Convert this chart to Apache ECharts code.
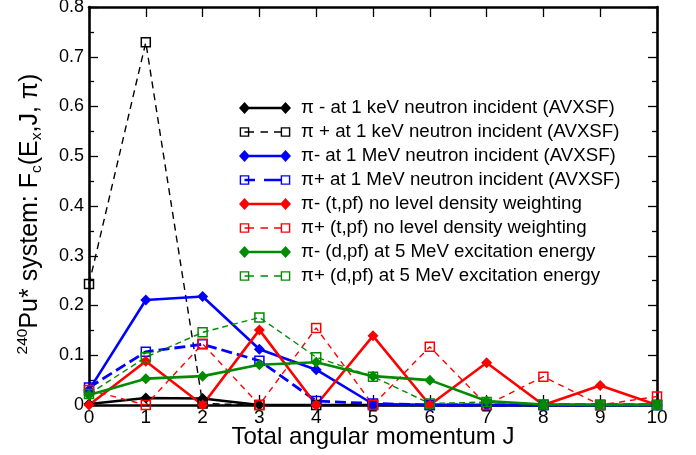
<!DOCTYPE html>
<html>
<head>
<meta charset="utf-8">
<script src="https://cdn.jsdelivr.net/npm/echarts@6/dist/echarts.min.js"></script>
<style>
  html, body { margin: 0; padding: 0; background: #fff; }
  #chart { width: 696px; height: 455px; }
</style>
</head>
<body>
<div id="chart"></div>
<script>
// Total angular momentum J
const J = [0, 1, 2, 3, 4, 5, 6, 7, 8, 9, 10];

// F_c(E_x, J, pi) for each parity / reaction
const keVMinus  = [0.002, 0.014, 0.013, 0.000, 0, 0, 0, 0, 0, 0, 0];
const keVPlus   = [0.243, 0.729, 0.003, 0.000, 0, 0, 0, 0, 0, 0, 0];
const MeVMinus  = [0.030, 0.211, 0.218, 0.112, 0.071, 0.002, 0, 0, 0, 0, 0];
const MeVPlus   = [0.035, 0.107, 0.122, 0.089, 0.008, 0.003, 0, 0, 0, 0, 0];
const tpfMinus  = [0.000, 0.088, 0.000, 0.151, 0.000, 0.139, 0.000, 0.085, 0.000, 0.039, 0.000];
const tpfPlus   = [0.030, 0.000, 0.123, 0.000, 0.155, 0.000, 0.117, 0.000, 0.057, 0.000, 0.017];
const dpfMinus  = [0.020, 0.053, 0.058, 0.081, 0.086, 0.058, 0.050, 0.008, 0.001, 0, 0];
const dpfPlus   = [0.022, 0.096, 0.146, 0.176, 0.096, 0.057, 0.003, 0.006, 0.001, 0, 0];

const names = [
  'π - at 1 keV neutron incident (AVXSF)',
  'π + at 1 keV neutron incident (AVXSF)',
  'π- at 1 MeV neutron incident (AVXSF)',
  'π+ at 1 MeV neutron incident (AVXSF)',
  'π- (t,pf) no level density weighting',
  'π+ (t,pf) no level density weighting',
  'π- (d,pf) at 5 MeV excitation energy',
  'π+ (d,pf) at 5 MeV excitation energy'
];

const BLACK = '#000000', BLUE = '#0000ff', RED = '#ff0000', GREEN = '#008b00';
const FONT = 'Liberation Sans';

// legend icon shapes: line with a marker at each end (drawn as filled sub-paths)
const ICON_W = 57, ICON_H = 12;
function rectPath(x0, y0, x1, y1, ccw) {
  return ccw
    ? `M${x0} ${y0} L${x0} ${y1} L${x1} ${y1} L${x1} ${y0} Z `
    : `M${x0} ${y0} L${x1} ${y0} L${x1} ${y1} L${x0} ${y1} Z `;
}
function diamondIcon() {
  let p = `M0 0 M${ICON_W} ${ICON_H} `;
  p += 'M0 6 L5.5 0 L11 6 L5.5 12 Z ';
  p += 'M41 6 L46.5 0 L52 6 L46.5 12 Z ';
  p += rectPath(5.5, 4.75, 46.5, 7.25);
  return 'path://' + p;
}
function squareIcon(dashes, thick) {
  let p = `M0 0 M${ICON_W} ${ICON_H} `;
  const sq = (cx) => rectPath(cx - 4.8, 1.2, cx + 4.8, 10.8) + rectPath(cx - 3.4, 2.6, cx + 3.4, 9.4, true);
  p += sq(5.5) + sq(46.5);
  dashes.forEach(([a, b]) => { p += rectPath(a, 6 - thick / 2, b, 6 + thick / 2); });
  return 'path://' + p;
}
const thinDash = [[5.5, 15], [21.5, 29], [35, 41.7]];
const thickDash = [[5.5, 16], [25, 41.7]];

function pairs(vals) { return J.map((j, i) => [j, vals[i]]); }

function minusSeries(name, vals, color) {
  return {
    name, type: 'line', data: pairs(vals), clip: false,
    symbol: 'diamond', symbolSize: 11,
    itemStyle: { color },
    lineStyle: { color, width: 2.6, type: 'solid' },
    emphasis: { disabled: true }
  };
}
function plusSeries(name, vals, color, dash, width) {
  return {
    name, type: 'line', data: pairs(vals), clip: false,
    symbol: 'rect', symbolSize: 9,
    itemStyle: { color: 'rgba(255,255,255,0)', borderColor: color, borderWidth: 1.5 },
    lineStyle: { color, width, type: dash },
    emphasis: { disabled: true }
  };
}

const series = [
  minusSeries(names[0], keVMinus, BLACK),
  plusSeries(names[1], keVPlus, BLACK, [7, 5], 1.4),
  minusSeries(names[2], MeVMinus, BLUE),
  plusSeries(names[3], MeVPlus, BLUE, [11, 5], 2.8),
  minusSeries(names[4], tpfMinus, RED),
  plusSeries(names[5], tpfPlus, RED, [6, 5], 1.4),
  minusSeries(names[6], dpfMinus, GREEN),
  plusSeries(names[7], dpfPlus, GREEN, [6, 4], 1.4)
];

const colors = [BLACK, BLACK, BLUE, BLUE, RED, RED, GREEN, GREEN];
const legendData = names.map((n, i) => ({
  name: n,
  icon: i % 2 === 0 ? diamondIcon() : squareIcon(i === 3 ? thickDash : thinDash, i === 3 ? 2.6 : 1.4),
  itemStyle: { color: colors[i], borderWidth: 0, opacity: 1 }
}));

const axisLine = { show: true, onZero: false, lineStyle: { color: '#000', width: 2.6 } };
const tickStyle = { color: '#000', width: 1.3 };

const option = {
  animation: false,
  textStyle: { fontFamily: FONT, color: '#000' },
  grid: { left: 89, right: 39, top: 7, bottom: 50, containLabel: false, outerBoundsMode: 'none' },
  legend: {
    orient: 'vertical', left: 234, top: 92,
    itemWidth: ICON_W, itemHeight: ICON_H, itemGap: 2,
    symbolKeepAspect: true, selectedMode: false,
    textStyle: { fontFamily: FONT, fontSize: 18.7, color: '#000', lineHeight: 22 },
    data: legendData
  },
  xAxis: [
    {
      type: 'value', min: 0, max: 10, interval: 1, position: 'bottom',
      name: 'Total angular momentum J', nameLocation: 'middle', nameGap: 20,
      nameMoveOverlap: false,
      nameTextStyle: { fontFamily: FONT, fontSize: 24, color: '#000' },
      axisLine, splitLine: { show: false },
      axisTick: { show: true, inside: true, length: 10, lineStyle: tickStyle },
      axisLabel: { fontFamily: FONT, fontSize: 19, color: '#000', margin: 3 }
    },
    {
      type: 'value', min: 0, max: 10, interval: 1, position: 'top',
      axisLine, splitLine: { show: false },
      axisTick: { show: true, inside: true, length: 10, lineStyle: tickStyle },
      axisLabel: { show: false }
    }
  ],
  yAxis: [
    {
      type: 'value', min: 0, max: 0.8, interval: 0.1, position: 'left',
      name: '{sup|240}{n|Pu* system: F}{sub|c}{n|(E}{sub|x}{n|,J, π)}',
      nameLocation: 'middle', nameGap: 44, nameRotate: 90,
      nameMoveOverlap: false,
      nameTextStyle: {
        fontFamily: FONT, color: '#000', padding: [0, 16, 0, 0],
        rich: {
          n: { fontFamily: FONT, fontSize: 25, lineHeight: 30, color: '#000' },
          sup: { fontFamily: FONT, fontSize: 15.5, lineHeight: 15, verticalAlign: 'top', color: '#000' },
          sub: { fontFamily: FONT, fontSize: 15.5, lineHeight: 15, verticalAlign: 'bottom', color: '#000' }
        }
      },
      axisLine, splitLine: { show: false },
      axisTick: { show: true, inside: true, length: 9, lineStyle: tickStyle },
      minorTick: { show: true, splitNumber: 2, length: 5, lineStyle: tickStyle },
      axisLabel: {
        fontFamily: FONT, fontSize: 18, color: '#000', margin: 5, padding: [3, 0, 0, 0],
        formatter: v => (v === 0 ? '0' : v.toFixed(1))
      }
    },
    {
      type: 'value', min: 0, max: 0.8, interval: 0.1, position: 'right',
      axisLine, splitLine: { show: false },
      axisTick: { show: true, inside: true, length: 9, lineStyle: tickStyle },
      minorTick: { show: true, splitNumber: 2, length: 5, lineStyle: tickStyle },
      axisLabel: { show: false }
    }
  ],
  series
};

const chart = echarts.init(document.getElementById('chart'), null, { renderer: 'canvas' });
chart.setOption(option);
</script>
</body>
</html>
